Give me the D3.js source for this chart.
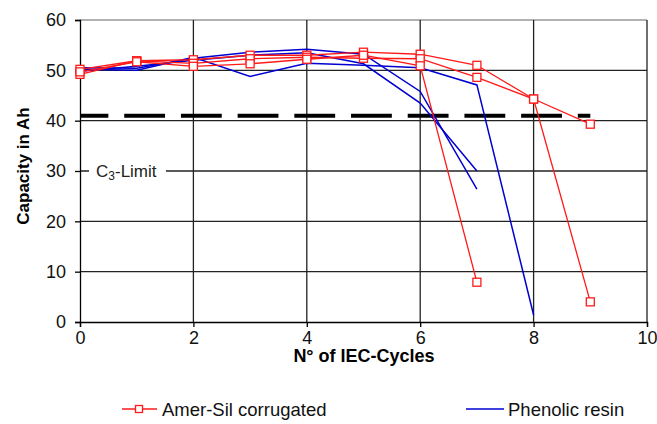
<!DOCTYPE html>
<html>
<head>
<meta charset="utf-8">
<script src="https://cdn.jsdelivr.net/npm/d3@7"></script>
<style>
  body { margin: 0; background: #fff; }
  text { font-family: "Liberation Sans", Arial, sans-serif; }
</style>
</head>
<body>
<svg id="chart" width="657" height="424"></svg>
<script>
// cycles on the x axis
const cycles = [0, 1, 2, 3, 4, 5, 6, 7, 8, 9]

// Amer-Sil corrugated (red, square markers)
const amerSil1 = [50.2, 51.9, 52.1, 53.0, 53.0, 53.6, 53.2, 51.0, 44.3, 39.3]
const amerSil2 = [49.2, 51.9, 51.4, 52.3, 52.6, 52.4, 52.3, 48.6, 44.3, 4.0]
const amerSil3 = [49.7, 51.7, 50.8, 51.3, 52.2, 53.0, 50.9, 7.9]

// Phenolic resin (blue, no markers)
const phenolic1 = [50.5, 50.4, 52.4, 53.6, 54.2, 53.2, 45.8, 26.4]
const phenolic2 = [49.8, 50.8, 52.0, 53.0, 53.5, 51.3, 43.5, 30.0]
const phenolic3 = [50.2, 50.0, 52.6, 48.8, 51.4, 51.0, 50.5, 47.1, 1.4]

const c3Limit = 41
const limitEnd = 9

const xTicks = [0, 2, 4, 6, 8, 10]
const yTicks = [0, 10, 20, 30, 40, 50, 60]

const redSeries = [amerSil1, amerSil2, amerSil3]
const blueSeries = [phenolic1, phenolic2, phenolic3]

const svg = d3.select('#chart')

const x = d3.scaleLinear().domain([0, 10]).range([80, 647])
const y = d3.scaleLinear().domain([0, 60]).range([322, 20])

const red = '#ff1a1a', blue = '#0000d0'

// grid
svg.append('g').selectAll('line')
  .data(yTicks.filter(d => d > 0))
  .enter().append('line')
  .attr('x1', x(0)).attr('x2', x(10))
  .attr('y1', d => y(d)).attr('y2', d => y(d))
  .attr('stroke', d => d == 60 ? '#999' : '#222')
  .attr('stroke-width', 1.3)

svg.append('g').selectAll('line')
  .data(xTicks.filter(d => d > 0))
  .enter().append('line')
  .attr('x1', d => x(d)).attr('x2', d => x(d))
  .attr('y1', y(0)).attr('y2', y(60))
  .attr('stroke', '#222')
  .attr('stroke-width', 1.3)

// C3-Limit label sits on the 30 gridline
svg.append('rect')
  .attr('x', 89).attr('y', y(30) - 10)
  .attr('width', 77).attr('height', 20)
  .attr('fill', '#fff')

let lbl = svg.append('text')
  .attr('x', 96).attr('y', y(30) + 6)
  .attr('font-size', 17).attr('fill', '#222')
lbl.append('tspan').text('C')
lbl.append('tspan').attr('font-size', 12).attr('dy', 3).text('3')
lbl.append('tspan').attr('dy', -3).text('-Limit')

// axes
const xAxis = d3.axisBottom(x).tickValues(xTicks).tickSize(5).tickPadding(4)
const yAxis = d3.axisLeft(y).tickValues(yTicks).tickSize(5).tickPadding(9)

let gx = svg.append('g').attr('transform', `translate(0,${y(0)})`).call(xAxis)
let gy = svg.append('g').attr('transform', `translate(${x(0)},0)`).call(yAxis)
;[gx, gy].forEach(g => {
  g.select('.domain').attr('stroke', '#000').attr('stroke-width', 1.3)
  g.selectAll('.tick line').attr('stroke', '#000').attr('stroke-width', 1.3)
  g.selectAll('.tick text').attr('font-size', 18).attr('fill', '#111')
    .style('font-family', '"Liberation Sans", Arial, sans-serif')
})

// dashed C3 limit
const unit = x(1) - x(0)
svg.append('line')
  .attr('x1', x(0)).attr('x2', x(limitEnd))
  .attr('y1', y(c3Limit)).attr('y2', y(c3Limit))
  .attr('stroke', '#000').attr('stroke-width', 4)
  .attr('stroke-dasharray', `${unit * 0.72} ${unit * 0.28}`)
  .attr('stroke-dashoffset', unit * 0.22)

const line = d3.line()
  .x((d, i) => x(cycles[i]))
  .y(d => y(d))

// blue lines
svg.append('g').selectAll('path')
  .data(blueSeries)
  .enter().append('path')
  .attr('d', line)
  .attr('fill', 'none')
  .attr('stroke', blue)
  .attr('stroke-width', 1.5)

// red lines with markers
redSeries.forEach(s => {
  svg.append('path')
    .attr('d', line(s))
    .attr('fill', 'none')
    .attr('stroke', red)
    .attr('stroke-width', 1.3)
})
redSeries.forEach(s => {
  svg.append('g').selectAll('rect')
    .data(s)
    .enter().append('rect')
    .attr('x', (d, i) => x(cycles[i]) - 4)
    .attr('y', d => y(d) - 4)
    .attr('width', 8).attr('height', 8)
    .attr('fill', '#fff')
    .attr('stroke', red)
    .attr('stroke-width', 1.3)
})

// axis titles
svg.append('text')
  .attr('x', 364).attr('y', 362)
  .attr('text-anchor', 'middle')
  .attr('font-size', 18).attr('font-weight', 'bold')
  .text('N° of IEC-Cycles')

svg.append('text')
  .attr('transform', 'translate(29,166) rotate(-90)')
  .attr('text-anchor', 'middle')
  .attr('font-size', 17).attr('font-weight', 'bold')
  .text('Capacity in Ah')

// legend
let lg = svg.append('g')
lg.append('line').attr('x1', 122).attr('x2', 157).attr('y1', 409).attr('y2', 409)
  .attr('stroke', red).attr('stroke-width', 1.3)
lg.append('rect').attr('x', 135.5).attr('y', 405.5).attr('width', 7).attr('height', 7)
  .attr('fill', '#fff').attr('stroke', red).attr('stroke-width', 1.3)
lg.append('text').attr('x', 162).attr('y', 415.5).attr('font-size', 18.5)
  .attr('fill', '#111').text('Amer-Sil corrugated')

lg.append('line').attr('x1', 466).attr('x2', 504).attr('y1', 409).attr('y2', 409)
  .attr('stroke', blue).attr('stroke-width', 1.5)
lg.append('text').attr('x', 508).attr('y', 415.5).attr('font-size', 18.5)
  .attr('fill', '#111').text('Phenolic resin')
</script>
</body>
</html>
